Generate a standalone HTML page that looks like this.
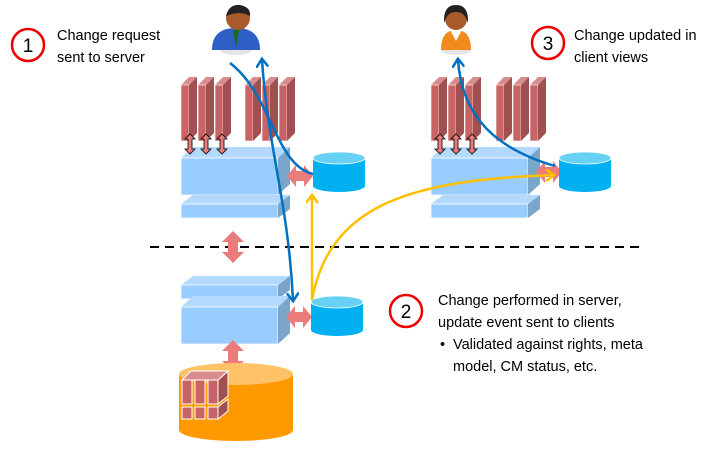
<!DOCTYPE html>
<html><head><meta charset="utf-8"><style>
html,body{margin:0;padding:0;background:#fff;}
svg{display:block;}
text{font-family:"Liberation Sans",sans-serif;font-size:14.5px;fill:#000;}
</style></head><body>
<svg width="726" height="455" viewBox="0 0 726 455" xmlns="http://www.w3.org/2000/svg">
<defs>
  <g id="panel">
    <polygon points="0,8 8,0 16,0 8,8" fill="#d98c8c"/>
    <rect x="0" y="8" width="8" height="56" fill="#c96464" stroke="#fff" stroke-width="0.6"/>
    <polygon points="8,8 16,0 16,56 8,64" fill="#a05050"/>
  </g>
  <g id="panels">
    <use href="#panel" x="0"/><use href="#panel" x="17"/><use href="#panel" x="34"/>
  </g>
  <g id="vdarrow">
    <polygon points="0,-10 5,-5 2,-5 2,5 5,5 0,10 -5,5 -2,5 -2,-5 -5,-5" fill="#ec7c7c" stroke="#000" stroke-width="0.8"/>
  </g>
  <g id="bigv">
    <polygon points="0,-16 11,-5 5,-5 5,5 11,5 0,16 -11,5 -5,5 -5,-5 -11,-5" fill="#ec7c7c"/>
  </g>
  <g id="bigh">
    <polygon points="-13,0 -4,-11 -4,-5 4,-5 4,-11 13,0 4,11 4,5 -4,5 -4,11" fill="#ec7c7c"/>
  </g>
  <g id="box">
    <polygon points="0,11 12,0 109,0 97,11" fill="#b3d9ff"/>
    <rect x="0" y="11" width="97" height="37" fill="#99ccff" stroke="#fff" stroke-width="0.8"/>
    <polygon points="97,11 109,0 109,37 97,48" fill="#7aa6cc"/>
  </g>
  <g id="slab">
    <polygon points="0,9 12,0 109,0 97,9" fill="#b3d9ff"/>
    <rect x="0" y="9" width="97" height="14" fill="#99ccff" stroke="#fff" stroke-width="0.8"/>
    <polygon points="97,9 109,0 109,14 97,23" fill="#7aa6cc"/>
  </g>
  <g id="db">
    <path d="M0,6 L0,34 A26,6 0 0 0 52,34 L52,6 Z" fill="#00b0f0"/>
    <ellipse cx="26" cy="6" rx="26" ry="6" fill="#66d0f5" stroke="#fff" stroke-width="0.8"/>
  </g>
  <marker id="ab" viewBox="0 0 10 10" refX="6" refY="5" markerWidth="5" markerHeight="5" orient="auto-start-reverse"><path d="M0,0 L7,5 L0,10" fill="none" stroke="#0070c0" stroke-width="2"/></marker>
  <marker id="ay" viewBox="0 0 10 10" refX="6" refY="5" markerWidth="5" markerHeight="5" orient="auto-start-reverse"><path d="M0,0 L7,5 L0,10" fill="none" stroke="#ffc000" stroke-width="2"/></marker>
</defs>

<circle cx="28" cy="45" r="16" fill="#fff" stroke="#e00" stroke-width="2.5"/>
<text x="28" y="52" text-anchor="middle" style="font-size:19px">1</text>
<text x="57" y="40">Change request</text>
<text x="57" y="62">sent to server</text>

<circle cx="548" cy="43" r="16" fill="#fff" stroke="#e00" stroke-width="2.5"/>
<text x="548" y="50" text-anchor="middle" style="font-size:19px">3</text>
<text x="574" y="40">Change updated in</text>
<text x="574" y="62">client views</text>

<circle cx="406" cy="311" r="16" fill="#fff" stroke="#e00" stroke-width="2.5"/>
<text x="406" y="318" text-anchor="middle" style="font-size:19px">2</text>
<text x="438" y="305">Change performed in server,</text>
<text x="438" y="327">update event sent to clients</text>
<text x="440" y="349">•</text>
<text x="453" y="349">Validated against rights, meta</text>
<text x="453" y="371">model, CM status, etc.</text>

<line x1="150" y1="247" x2="642" y2="247" stroke="#000" stroke-width="2" stroke-dasharray="9,6"/>

<!-- left client -->
<g>
  <ellipse cx="236" cy="50" rx="16" ry="5" fill="#ccc" opacity="0.5"/>
  <path d="M212,50 Q212,28 236,28 Q260,28 260,50 Z" fill="#2e5fc4"/>
  <polygon points="233,30 239,30 236,48" fill="#1a6b1a"/>
  <circle cx="238" cy="18" r="12" fill="#a85a2a"/>
  <path d="M226,16 Q229,4 240,5 Q251,7 250,16 Q240,10 226,16Z" fill="#222"/>
</g>
<use href="#panels" x="181" y="77"/>
<use href="#panels" x="245" y="77"/>
<use href="#box" x="181" y="147"/>
<use href="#vdarrow" x="190" y="144"/><use href="#vdarrow" x="206" y="144"/><use href="#vdarrow" x="222" y="144"/>
<use href="#slab" x="181" y="195"/>
<use href="#db" x="313" y="152"/>
<use href="#bigh" x="300" y="176"/>
<use href="#bigv" x="233" y="247"/>

<!-- server -->
<use href="#slab" x="181" y="276"/>
<use href="#box" x="181" y="296"/>
<use href="#bigh" x="299" y="317"/>
<use href="#db" x="311" y="296"/>
<use href="#bigv" x="233" y="356"/>
<path d="M179,374 L179,430 A57,11 0 0 0 293,430 L293,374 Z" fill="#ff9900"/>
<ellipse cx="236" cy="374" rx="57" ry="11" fill="#ffc266"/>
<g stroke="#fff" stroke-width="1">
  <g fill="#c96464">
    <rect x="182" y="380" width="10" height="24"/><rect x="195" y="380" width="10" height="24"/><rect x="208" y="380" width="10" height="24"/>
    <rect x="182" y="407" width="10" height="12"/><rect x="195" y="407" width="10" height="12"/><rect x="208" y="407" width="10" height="12"/>
  </g>
  <g fill="#a05050">
    <polygon points="218,380 228,371 228,396 218,404"/>
    <polygon points="218,407 228,399 228,411 218,419"/>
  </g>
  <g fill="#d98c8c">
    <polygon points="182,380 191,371 228,371 218,380"/>
  </g>
</g>

<!-- right client -->
<g>
  <ellipse cx="456" cy="50" rx="15" ry="5" fill="#ccc" opacity="0.5"/>
  <path d="M441,50 Q441,30 456,30 Q471,30 471,50 Z" fill="#f08a1c"/>
  <polygon points="450,30 462,30 456,41" fill="#fff"/>
  <circle cx="456" cy="19" r="11" fill="#a85a2a"/>
  <path d="M444,23 Q443,5 456,5 Q469,5 468,23 Q465,12 456,12 Q447,12 444,23Z" fill="#222"/>
</g>
<use href="#panels" x="431" y="77"/>
<use href="#panels" x="496" y="77"/>
<use href="#box" x="431" y="147"/>
<use href="#vdarrow" x="440" y="144"/><use href="#vdarrow" x="456" y="144"/><use href="#vdarrow" x="472" y="144"/>
<use href="#slab" x="431" y="195"/>
<use href="#bigh" x="549" y="172"/>
<use href="#db" x="559" y="152"/>

<g fill="none" stroke-width="2.5">
  <path d="M230,63 C272,95 275,165 313,174" stroke="#0070c0"/>
  <path d="M262,60 C268,150 288,200 293,300" stroke="#0070c0" marker-start="url(#ab)" marker-end="url(#ab)"/>
  <path d="M555,166 C500,150 462,120 458,60" stroke="#0070c0" marker-end="url(#ab)"/>
  <path d="M312,300 L312,196" stroke="#ffc000" marker-end="url(#ay)"/>
  <path d="M312,300 C330,200 420,180 553,175" stroke="#ffc000" marker-end="url(#ay)"/>
</g>
</svg>
</body></html>
